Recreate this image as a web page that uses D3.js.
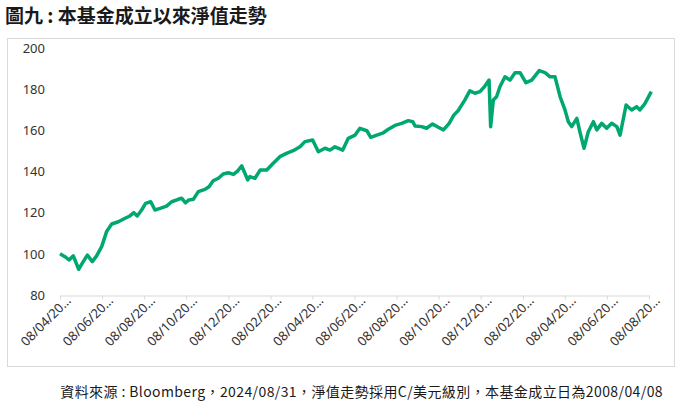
<!DOCTYPE html>
<html>
<head>
<meta charset="utf-8">
<script src="https://cdn.jsdelivr.net/npm/d3@7"></script>
<style>
  body { margin: 0; background: #fff; }
  svg { display: block; font-family: "Noto Sans CJK TC", "Noto Sans", sans-serif; }
</style>
</head>
<body>
<div id="chart"></div>
<script>
// NAV since fund inception
const navDates = [
  '2008-04-08', '2008-05-28', '2008-07-08', '2008-08-21', '2008-10-14', '2008-11-20',
  '2009-01-10', '2009-03-01', '2009-04-14', '2009-06-04', '2009-07-24', '2009-09-14',
  '2009-11-20', '2010-01-27', '2010-03-17', '2010-04-26', '2010-05-30', '2010-07-14',
  '2010-08-23', '2010-10-14', '2010-11-26', '2011-01-17', '2011-03-23', '2011-05-14',
  '2011-07-20', '2011-08-23', '2011-10-02', '2011-11-05', '2011-12-20', '2012-02-08',
  '2012-04-15', '2012-05-26', '2012-07-08', '2012-08-29', '2012-10-17', '2012-12-08',
  '2013-01-29', '2013-03-11', '2013-04-23', '2013-06-23', '2013-07-14', '2013-09-04',
  '2013-10-26', '2014-01-01', '2014-03-08', '2014-05-14', '2014-07-20', '2014-09-26',
  '2014-12-04', '2015-01-23', '2015-04-11', '2015-06-08', '2015-08-14', '2015-10-04',
  '2015-11-23', '2016-02-10', '2016-04-06', '2016-06-14', '2016-08-02', '2016-10-11',
  '2016-11-20', '2017-01-20', '2017-03-27', '2017-05-17', '2017-07-23', '2017-09-29',
  '2017-12-05', '2018-01-19', '2018-02-11', '2018-04-19', '2018-06-08', '2018-08-08',
  '2018-10-05', '2018-11-26', '2019-01-23', '2019-03-11', '2019-04-23', '2019-06-30',
  '2019-08-20', '2019-10-11', '2019-12-01', '2020-01-20', '2020-03-02', '2020-03-18',
  '2020-04-14', '2020-05-17', '2020-06-20', '2020-08-10', '2020-09-30', '2020-11-20',
  '2021-01-10', '2021-03-11', '2021-05-08', '2021-07-23', '2021-09-20', '2021-11-10',
  '2021-12-30', '2022-02-20', '2022-04-10', '2022-05-14', '2022-06-17', '2022-08-08',
  '2022-09-08', '2022-10-20', '2022-12-02', '2023-01-23', '2023-02-26', '2023-04-17',
  '2023-06-06', '2023-07-27', '2023-09-17', '2023-10-20', '2023-12-20', '2024-02-14',
  '2024-04-05', '2024-05-08', '2024-06-29', '2024-08-31'
];

const navValues = [
  100.0, 98.6, 97.0, 99.0, 92.5, 95.5,
  99.4, 96.2, 99.0, 103.5, 110.8, 114.5,
  115.6, 117.3, 118.4, 120.0, 118.4, 121.3,
  124.5, 125.3, 121.3, 122.1, 123.2, 125.3,
  126.5, 127.0, 124.8, 126.2, 126.5, 130.2,
  131.3, 132.6, 135.5, 136.7, 138.8, 139.4,
  138.6, 140.2, 142.7, 135.9, 137.5, 136.7,
  140.7, 140.7, 144.0, 147.2, 148.8, 150.1,
  152.0, 154.5, 155.3, 149.6, 151.3, 150.4,
  152.0, 150.4, 156.1, 157.7, 161.0, 159.8,
  156.6, 157.7, 158.8, 160.5, 162.4, 163.4,
  164.7, 164.2, 162.1, 161.8, 161.0, 163.1,
  161.5, 160.2, 163.4, 167.4, 169.5, 174.7,
  179.2, 178.0, 178.8, 181.5, 184.4, 161.8,
  174.7, 176.3, 181.2, 186.0, 184.4, 188.0,
  188.0, 183.1, 184.4, 189.0, 188.0, 186.0,
  186.0, 176.3, 169.9, 164.2, 161.8, 165.8,
  159.3, 151.3, 159.3, 164.2, 160.2, 163.4,
  161.0, 163.4, 161.8, 157.7, 172.3, 169.9,
  171.5, 169.9, 173.1, 178.8
];

// x-axis ticks every 14 months from inception
const tickDates = [
  '2008-04-08', '2009-06-08', '2010-08-08', '2011-10-08', '2012-12-08',
  '2014-02-08', '2015-04-08', '2016-06-08', '2017-08-08', '2018-10-08',
  '2019-12-08', '2021-02-08', '2022-04-08', '2023-06-08', '2024-08-08'
];

const yTicks = [80, 100, 120, 140, 160, 180, 200];

const titleText = '圖九 : 本基金成立以來淨值走勢';
const sourceText = '資料來源 : Bloomberg，2024/08/31，淨值走勢採用C/美元級別，本基金成立日為2008/04/08';

const width = 682;
const height = 408;
const parse = d3.timeParse('%Y-%m-%d');
const fmt = d3.timeFormat('%d/%m/%Y');

const data = navDates.map((d, i) => ({ date: parse(d), value: navValues[i] }));
const ticks = tickDates.map(parse);

const svg = d3.select('#chart')
  .append('svg')
  .attr('width', width)
  .attr('height', height);

// Title
svg.append('text')
  .attr('x', 5)
  .attr('y', 23)
  .attr('font-size', '19px')
  .attr('font-weight', 'bold')
  .attr('fill', '#1a1a1a')
  .text(titleText);

// Chart frame
svg.append('rect')
  .attr('x', 7.5)
  .attr('y', 38.5)
  .attr('width', 667)
  .attr('height', 328)
  .attr('fill', 'none')
  .attr('stroke', '#d9d9d9');

// Scales
const x = d3.scaleTime()
  .domain([ticks[0], ticks[ticks.length - 1]])
  .range([60, 649]);

const y = d3.scaleLinear()
  .domain([80, 200])
  .range([295, 48]);

// X axis
const xAxis = svg.append('g')
  .attr('transform', 'translate(0,295.5)')
  .call(d3.axisBottom(x)
    .tickValues(ticks)
    .tickSize(4)
    .tickSizeOuter(0)
    .tickFormat(d => fmt(d).slice(0, 8) + '…'));

xAxis.select('.domain').attr('stroke', '#d9d9d9');
xAxis.selectAll('line').attr('stroke', '#d9d9d9');
xAxis.selectAll('text')
  .attr('fill', '#333')
  .attr('font-size', '13px')
  .attr('font-family', '"Noto Sans", sans-serif')
  .attr('text-anchor', 'end')
  .attr('dx', '0.3em')
  .attr('dy', '0.4em')
  .attr('transform', 'rotate(-45)');

// Y axis (labels only)
const yAxis = svg.append('g')
  .attr('transform', 'translate(45,0)')
  .call(d3.axisLeft(y).tickValues(yTicks).tickSize(0).tickPadding(0));

yAxis.select('.domain').remove();
yAxis.selectAll('text')
  .attr('fill', '#333')
  .attr('font-size', '13px')
  .attr('font-family', '"Noto Sans", sans-serif');

// NAV line
const line = d3.line()
  .x(d => x(d.date))
  .y(d => y(d.value));

svg.append('path')
  .datum(data)
  .attr('fill', 'none')
  .attr('stroke', '#00a870')
  .attr('stroke-width', 3.5)
  .attr('stroke-linejoin', 'round')
  .attr('d', line);

// Source note
svg.append('text')
  .attr('x', 663)
  .attr('y', 397)
  .attr('text-anchor', 'end')
  .attr('font-size', '14px')
  .attr('letter-spacing', '0.4px')
  .attr('fill', '#1a1a1a')
  .text(sourceText);
</script>
</body>
</html>
